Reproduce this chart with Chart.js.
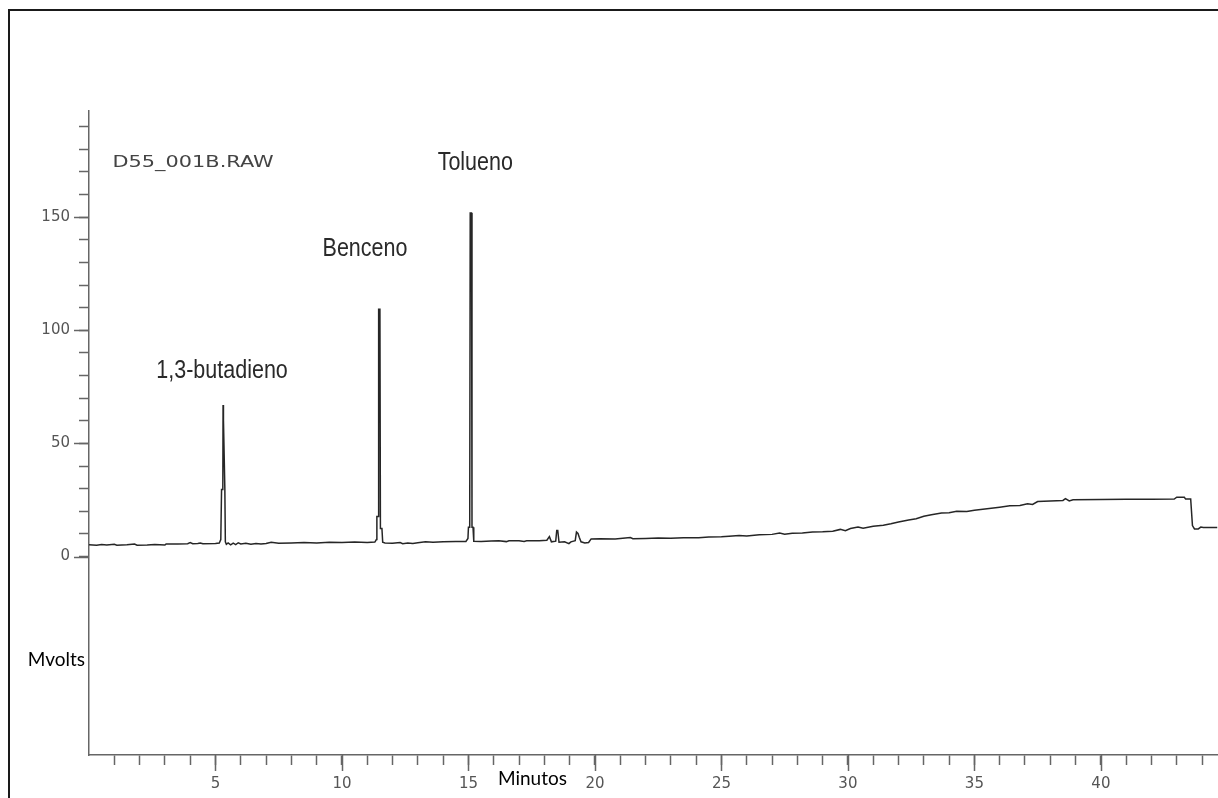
<!DOCTYPE html>
<html>
<head>
<meta charset="utf-8">
<script src="https://cdn.jsdelivr.net/npm/chart.js@4.4.1/dist/chart.umd.min.js"></script>
<style>
  html, body { margin: 0; padding: 0; background: #fff; overflow: hidden; }
  #wrap { position: relative; width: 1218px; height: 798px; }
  #frame { position: absolute; left: 8px; top: 9px; width: 1300px; height: 900px;
           border-left: 2px solid #1a1a1a; border-top: 2px solid #1a1a1a; }
  canvas { position: absolute; left: 0; top: 0; }
</style>
</head>
<body>
<div id="wrap">
  <div id="frame"></div>
  <canvas id="chromatogram" width="1218" height="798"></canvas>
</div>
<script>
// retention time (min) and detector signal (mV)
const timeMin = [
  0.00, 0.30, 0.50, 0.70, 1.00, 1.10, 1.50, 1.80, 1.90, 2.30, 2.60, 3.00, 3.05, 3.50, 3.90, 4.00,
  4.10, 4.30, 4.40, 4.50, 5.00, 5.15, 5.21, 5.24, 5.29, 5.30, 5.31, 5.32, 5.37, 5.39, 5.43, 5.50,
  5.60, 5.70, 5.80, 5.90, 6.00, 6.20, 6.40, 6.60, 6.80, 7.00, 7.20, 7.50, 8.00, 8.50, 9.00, 9.50,
  10.00, 10.50, 11.00, 11.30, 11.36, 11.38, 11.43, 11.45, 11.50, 11.52, 11.58, 11.61, 11.70, 12.00,
  12.30, 12.40, 12.60, 12.80, 13.00, 13.30, 13.60, 14.00, 14.50, 14.90, 14.98, 15.00, 15.05, 15.07,
  15.12, 15.14, 15.18, 15.21, 15.50, 15.90, 16.20, 16.50, 16.60, 17.00, 17.20, 17.30, 17.80, 18.10,
  18.20, 18.28, 18.45, 18.49, 18.53, 18.58, 18.80, 18.97, 19.05, 19.22, 19.27, 19.33, 19.38, 19.45,
  19.60, 19.75, 19.85, 20.20, 20.80, 21.40, 21.50, 22.00, 22.50, 23.00, 23.50, 24.10, 24.50, 25.00,
  25.30, 25.70, 26.00, 26.50, 27.00, 27.30, 27.50, 27.80, 28.20, 28.60, 29.00, 29.40, 29.70, 29.90,
  30.10, 30.40, 30.60, 31.00, 31.40, 31.70, 32.00, 32.40, 32.70, 33.00, 33.30, 33.70, 34.00, 34.30,
  34.70, 35.00, 35.50, 36.00, 36.40, 36.80, 37.10, 37.30, 37.50, 38.00, 38.50, 38.60, 38.75, 38.90,
  40.00, 41.00, 42.00, 42.90, 43.00, 43.30, 43.35, 43.55, 43.62, 43.70, 43.85, 43.95, 44.05, 44.60
];
const mvolts = [
  5.2, 5.0, 5.3, 5.1, 5.4, 5.0, 5.2, 5.5, 5.0, 5.1, 5.3, 5.1, 5.6, 5.6, 5.7, 6.2,
  5.7, 5.8, 6.0, 5.7, 5.8, 6.0, 7.5, 29.6, 29.6, 67.0, 60.2, 60.2, 30.0, 6.5, 5.4, 6.0,
  5.2, 5.9, 5.3, 6.1, 5.6, 5.9, 5.4, 5.8, 5.5, 5.8, 6.3, 5.9, 6.0, 6.2, 6.0, 6.3,
  6.2, 6.4, 6.2, 6.4, 7.5, 17.7, 17.7, 109.3, 109.3, 12.4, 12.4, 6.3, 6.0, 5.9,
  6.2, 5.7, 6.0, 5.8, 6.1, 6.5, 6.3, 6.5, 6.6, 6.7, 8.0, 13.0, 13.0, 151.8,
  151.8, 13.0, 13.0, 6.8, 6.7, 6.9, 7.0, 6.6, 7.0, 7.0, 6.7, 7.0, 7.0, 7.2,
  8.8, 6.5, 6.8, 11.5, 11.5, 6.3, 6.5, 5.7, 6.5, 7.0, 10.8, 10.2, 8.5, 6.5,
  6.0, 6.2, 7.8, 7.9, 7.8, 8.4, 7.9, 8.0, 8.2, 8.1, 8.3, 8.3, 8.6, 8.7,
  9.0, 9.3, 9.1, 9.6, 9.8, 10.4, 9.9, 10.3, 10.4, 10.9, 11.0, 11.2, 12.0, 11.4,
  12.4, 13.0, 12.5, 13.4, 13.8, 14.5, 15.3, 16.2, 16.7, 17.8, 18.5, 19.2, 19.4, 20.0,
  19.9, 20.5, 21.1, 21.8, 22.4, 22.6, 23.3, 23.0, 24.3, 24.5, 24.8, 25.6, 24.6, 25.1,
  25.2, 25.3, 25.3, 25.4, 26.2, 26.2, 25.4, 25.4, 13.7, 12.2, 12.2, 13.0, 12.8, 12.8
];

const xMajorStep = 5;
const yMajorStep = 50;

const peakLabels = [
  { text: '1,3-butadieno', t: 5.26, v: 82.0 },
  { text: 'Benceno', t: 10.91, v: 135.9 },
  { text: 'Tolueno', t: 15.27, v: 173.7 }
];

function drawText(ctx, text, x, y, font, color, align, sx) {
  ctx.save();
  ctx.font = font;
  ctx.fillStyle = color;
  ctx.textAlign = align;
  ctx.textBaseline = 'middle';
  ctx.translate(x, y);
  ctx.scale(sx, 1);
  ctx.fillText(text, 0, 0);
  ctx.restore();
}

const decorations = {
  id: 'decorations',
  afterDraw(chart) {
    const { ctx, chartArea, scales: { x, y } } = chart;
    ctx.save();
    ctx.strokeStyle = '#666';
    ctx.lineWidth = 1.5;
    // longer marks on the labelled ticks
    x.ticks.forEach(t => {
      if (t.value % xMajorStep === 0) {
        const px = Math.round(x.getPixelForValue(t.value)) + 0.5;
        ctx.beginPath();
        ctx.moveTo(px, chartArea.bottom);
        ctx.lineTo(px, chartArea.bottom + 16);
        ctx.stroke();
      }
    });
    y.ticks.forEach(t => {
      if (t.value % yMajorStep === 0) {
        const py = Math.round(y.getPixelForValue(t.value)) + 0.5;
        ctx.beginPath();
        ctx.moveTo(chartArea.left - 15, py);
        ctx.lineTo(chartArea.left, py);
        ctx.stroke();
      }
    });
    ctx.restore();

    peakLabels.forEach(p => {
      drawText(ctx, p.text, x.getPixelForValue(p.t), y.getPixelForValue(p.v),
        '25px "Liberation Sans", Arial, sans-serif', '#2a2a2a', 'center', 0.86);
    });
    drawText(ctx, 'D55_001B.RAW', x.getPixelForValue(0.93), y.getPixelForValue(173.9),
      '15px "DejaVu Sans", sans-serif', '#444', 'left', 1.39);
    drawText(ctx, 'Minutos', x.getPixelForValue(17.53), chartArea.bottom + 24,
      '19px Lato, "Noto Sans", sans-serif', '#000', 'center', 1);
    drawText(ctx, 'Mvolts', chartArea.left - 4, y.getPixelForValue(-45.7),
      '19px Lato, "Noto Sans", sans-serif', '#000', 'right', 1);
  }
};

new Chart(document.getElementById('chromatogram'), {
  type: 'line',
  data: {
    datasets: [
      {
        data: timeMin.map((t, i) => ({ x: t, y: mvolts[i] })),
        borderColor: '#262626',
        borderWidth: 1.5,
        pointRadius: 0,
        tension: 0,
        fill: false,
      },
    ],
  },
  options: {
    responsive: false,
    animation: false,
    events: [],
    layout: { padding: { top: 111, left: 0, right: 0, bottom: 0 } },
    plugins: {
      legend: { display: false },
      tooltip: { enabled: false },
    },
    scales: {
      x: {
        type: 'linear',
        min: 0,
        max: 44.63,
        afterBuildTicks: (scale) => { scale.ticks = scale.ticks.filter(t => t.value > 0); },
        afterFit: (scale) => { scale.height = 43; },
        border: { display: true, color: '#666', width: 1.5 },
        grid: { drawOnChartArea: false, drawTicks: true, tickLength: 10, tickColor: '#666', tickWidth: 1.5 },
        ticks: {
          stepSize: 1,
          includeBounds: false,
          autoSkip: false,
          maxRotation: 0,
          padding: 10,
          color: '#555',
          font: { family: '"DejaVu Sans", sans-serif', size: 15 },
          callback: (v) => (v % xMajorStep === 0 ? String(v) : ''),
        },
      },
      y: {
        min: -87.7,
        max: 196.9,
        afterBuildTicks: (scale) => { scale.ticks = scale.ticks.filter(t => t.value >= 0); },
        afterFit: (scale) => { scale.width = 89; },
        border: { display: true, color: '#666', width: 1.5 },
        grid: { drawOnChartArea: false, drawTicks: true, tickLength: 10, tickColor: '#666', tickWidth: 1.5 },
        ticks: {
          stepSize: 10,
          includeBounds: false,
          autoSkip: false,
          padding: 9,
          color: '#555',
          font: { family: '"DejaVu Sans", sans-serif', size: 15 },
          callback: (v) => (v % yMajorStep === 0 ? String(v) : ''),
        },
      },
    },
  },
  plugins: [decorations],
});
</script>
</body>
</html>
